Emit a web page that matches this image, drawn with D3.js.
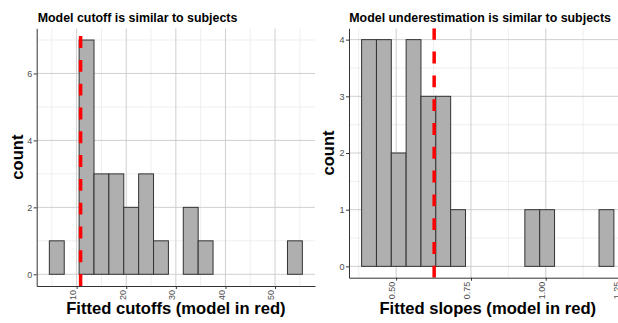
<!DOCTYPE html>
<html>
<head>
<meta charset="utf-8">
<script src="https://cdn.jsdelivr.net/npm/d3@7"></script>
<style>
  html, body { margin: 0; padding: 0; background: #ffffff; }
  svg { display: block; }
  text { font-family: "Liberation Sans", Arial, Helvetica, sans-serif; }
</style>
</head>
<body>
<svg id="chart" width="618" height="323"></svg>
<script>
// ---------- Data ----------
const cutoffBinEdges = [4.5, 7.5, 10.5, 13.5, 16.5, 19.5, 22.5, 25.5, 28.5, 31.5, 34.5, 37.5, 40.5, 43.5, 46.5, 49.5, 52.5, 55.5];
const cutoffCounts   = [1, 0, 7, 3, 3, 2, 3, 1, 0, 2, 1, 0, 0, 0, 0, 0, 1];
const modelCutoff    = 10.8;

const slopeBinEdges  = [0.3845, 0.4341, 0.4837, 0.5333, 0.5829, 0.6325, 0.6821, 0.7317, 0.7813, 0.8309, 0.8805, 0.9301, 0.9797, 1.0293, 1.0789, 1.1285, 1.1781, 1.2277];
const slopeCounts    = [4, 4, 2, 4, 3, 3, 1, 0, 0, 0, 0, 1, 1, 0, 0, 0, 1];
const modelSlope     = 0.627;

const cutoffXTicks      = [10, 20, 30, 40, 50];
const cutoffXTickLabels = ["10", "20", "30", "40", "50"];
const cutoffXMinor      = [5, 15, 25, 35, 45, 55];
const cutoffYTicks      = [0, 2, 4, 6];
const cutoffYTickLabels = ["0", "2", "4", "6"];
const cutoffYMinor      = [1, 3, 5, 7];

const slopeXTicks      = [0.5, 0.75, 1.0, 1.25];
const slopeXTickLabels = ["0.50", "0.75", "1.00", "1.25"];
const slopeXMinor      = [0.375, 0.625, 0.875, 1.125];
const slopeYTicks      = [0, 1, 2, 3, 4];
const slopeYTickLabels = ["0", "1", "2", "3", "4"];
const slopeYMinor      = [0.5, 1.5, 2.5, 3.5];

const titles  = ["Model cutoff is similar to subjects", "Model underestimation is similar to subjects"];
const xTitles = ["Fitted cutoffs (model in red)", "Fitted slopes (model in red)"];
const yTitle  = "count";

// ---------- Drawing ----------
const svg = d3.select("#chart");
svg.append("rect").attr("width", 618).attr("height", 323).attr("fill", "#ffffff");

function drawPanel(cfg) {
  const edges = cfg.edges, counts = cfg.counts;
  const lo = edges[0], hi = edges[edges.length - 1];
  const xr = hi - lo;
  const ymax = d3.max(counts);
  const x = d3.scaleLinear().domain([lo - 0.05 * xr, hi + 0.05 * xr]).range([cfg.left, cfg.right]);
  const y = d3.scaleLinear().domain([-0.05 * ymax, ymax * 1.05]).range([cfg.bottom, cfg.top]);

  const g = svg.append("g");
  const clipId = "clip" + cfg.id;
  svg.append("clipPath").attr("id", clipId).append("rect")
    .attr("x", cfg.left).attr("y", cfg.top)
    .attr("width", cfg.right - cfg.left).attr("height", cfg.bottom - cfg.top);
  const pg = g.append("g").attr("clip-path", `url(#${clipId})`);

  // minor gridlines
  pg.selectAll(".vminor").data(cfg.xMinor).join("line")
    .attr("x1", d => x(d)).attr("x2", d => x(d))
    .attr("y1", cfg.top).attr("y2", cfg.bottom)
    .attr("stroke", "#ebebeb").attr("stroke-width", 0.8);
  pg.selectAll(".hminor").data(cfg.yMinor).join("line")
    .attr("y1", d => y(d)).attr("y2", d => y(d))
    .attr("x1", cfg.left).attr("x2", cfg.right)
    .attr("stroke", "#ebebeb").attr("stroke-width", 0.8);
  // major gridlines
  pg.selectAll(".vmajor").data(cfg.xTicks).join("line")
    .attr("x1", d => x(d)).attr("x2", d => x(d))
    .attr("y1", cfg.top).attr("y2", cfg.bottom)
    .attr("stroke", "#cacaca").attr("stroke-width", 0.9);
  pg.selectAll(".hmajor").data(cfg.yTicks).join("line")
    .attr("y1", d => y(d)).attr("y2", d => y(d))
    .attr("x1", cfg.left).attr("x2", cfg.right)
    .attr("stroke", "#cacaca").attr("stroke-width", 0.9);

  // bars
  const bins = counts.map((c, i) => ({ x0: edges[i], x1: edges[i + 1], n: c }));
  pg.selectAll(".bar").data(bins).join("rect")
    .attr("x", d => x(d.x0))
    .attr("width", d => x(d.x1) - x(d.x0))
    .attr("y", d => y(d.n))
    .attr("height", d => y(0) - y(d.n))
    .attr("fill", "#afafaf")
    .attr("stroke", "#333333")
    .attr("stroke-width", 1);

  // model line (dashed red), drawn from bottom to top
  pg.append("line")
    .attr("x1", x(cfg.model)).attr("x2", x(cfg.model))
    .attr("y1", cfg.bottom).attr("y2", cfg.top)
    .attr("stroke", "#ff0000").attr("stroke-width", 3.5)
    .attr("stroke-dasharray", "11.9,11.9");

  // axes
  const xAxis = d3.axisBottom(x).tickValues(cfg.xTicks)
    .tickFormat((d, i) => cfg.xTickLabels[i]).tickSize(3).tickSizeOuter(0);
  const gx = g.append("g").attr("transform", `translate(0,${cfg.bottom})`).call(xAxis);
  gx.select(".domain").attr("stroke", "#333333").attr("stroke-width", 1);
  gx.selectAll(".tick line").attr("stroke", "#333333");
  gx.selectAll(".tick text")
    .attr("transform", "rotate(-90)")
    .attr("x", -4).attr("y", -1.2).attr("dy", 0)
    .attr("text-anchor", "end")
    .attr("fill", "#4d4d4d").attr("font-size", 9)
    .attr("font-family", "Liberation Sans, Arial, sans-serif");

  const yAxis = d3.axisLeft(y).tickValues(cfg.yTicks)
    .tickFormat((d, i) => cfg.yTickLabels[i])
    .tickSize(3).tickSizeOuter(0).tickPadding(1.5);
  const gy = g.append("g").attr("transform", `translate(${cfg.left},0)`).call(yAxis);
  gy.select(".domain").attr("stroke", "#333333").attr("stroke-width", 1);
  gy.selectAll(".tick line").attr("stroke", "#333333");
  gy.selectAll(".tick text")
    .attr("fill", "#4d4d4d").attr("font-size", 9)
    .attr("font-family", "Liberation Sans, Arial, sans-serif");

  // titles
  g.append("text")
    .attr("x", cfg.titleX).attr("y", 22)
    .attr("font-size", 12.4).attr("font-weight", "bold").attr("fill", "#000")
    .text(cfg.title);
  g.append("text")
    .attr("x", (cfg.left + cfg.right) / 2).attr("y", 314)
    .attr("text-anchor", "middle")
    .attr("font-size", 16.6).attr("font-weight", "bold").attr("fill", "#000")
    .text(cfg.xTitle);
  g.append("text")
    .attr("transform", `translate(${cfg.yTitleX},${(cfg.top + cfg.bottom) / 2}) rotate(-90)`)
    .attr("text-anchor", "middle")
    .attr("font-size", 16.6).attr("font-weight", "bold").attr("fill", "#000")
    .text(yTitle);
}

drawPanel({
  id: "A", edges: cutoffBinEdges, counts: cutoffCounts, model: modelCutoff,
  xTicks: cutoffXTicks, xTickLabels: cutoffXTickLabels, xMinor: cutoffXMinor,
  yTicks: cutoffYTicks, yTickLabels: cutoffYTickLabels, yMinor: cutoffYMinor,
  left: 36.7, right: 315, top: 28.3, bottom: 286,
  title: titles[0], titleX: 37.7, xTitle: xTitles[0], yTitleX: 22.5
});
drawPanel({
  id: "B", edges: slopeBinEdges, counts: slopeCounts, model: modelSlope,
  xTicks: slopeXTicks, xTickLabels: slopeXTickLabels, xMinor: slopeXMinor,
  yTicks: slopeYTicks, yTickLabels: slopeYTickLabels, yMinor: slopeYMinor,
  left: 349, right: 626.5, top: 28.3, bottom: 277.7,
  title: titles[1], titleX: 349.3, xTitle: xTitles[1], yTitleX: 333.5
});
</script>
</body>
</html>
